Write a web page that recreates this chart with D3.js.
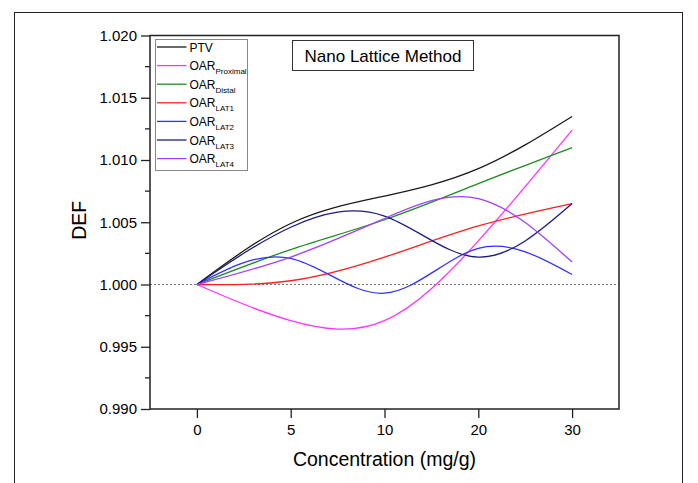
<!DOCTYPE html>
<html>
<head>
<meta charset="utf-8">
<script src="https://cdn.jsdelivr.net/npm/d3@7"></script>
<style>
  body { margin: 0; background: #fff; }
  text { font-family: "Liberation Sans", Arial, sans-serif; fill: #000; }
</style>
</head>
<body>
<div id="chart"></div>
<script>
// x categories (plotted at equal spacing)
const concentrations = ["0", "5", "10", "20", "30"];

// DEF values per structure
const ptv      = [1.0000, 1.0049, 1.0071, 1.0093, 1.0135];
const proximal = [1.0000, 0.9971, 0.9971, 1.0035, 1.0124];
const distal   = [1.0000, 1.0028, 1.0052, 1.0081, 1.0110];
const lat1     = [1.0000, 1.0003, 1.0022, 1.0047, 1.0065];
const lat2     = [1.0000, 1.0021, 0.9993, 1.0029, 1.0008];
const lat3     = [1.0000, 1.0046, 1.0055, 1.0022, 1.0065];
const lat4     = [1.0000, 1.0022, 1.0053, 1.0069, 1.0018];

const seriesNames = ["PTV", "OAR", "OAR", "OAR", "OAR", "OAR", "OAR"];
const seriesSubs  = ["", "Proximal", "Distal", "LAT1", "LAT2", "LAT3", "LAT4"];
const seriesColors = ["#1a1a1a", "#ff33ff", "#228b22", "#ff2020", "#3030ff", "#1c1c80", "#a040ff"];
const seriesData = [ptv, proximal, distal, lat1, lat2, lat3, lat4];

const yTicks = [0.990, 0.995, 1.000, 1.005, 1.010, 1.015, 1.020];

const W = 698, H = 483;
const margin = { top: 35.5, right: 79, bottom: 74, left: 150 };

const svg = d3.select('#chart').append('svg')
    .attr('width', W)
    .attr('height', H);

// outer border
svg.append('rect')
    .attr('x', 14.5).attr('y', 12.5)
    .attr('width', 668).attr('height', 490)
    .attr('fill', 'none')
    .attr('stroke', '#222')
    .attr('stroke-width', 1);

const x = d3.scaleLinear()
    .domain([-0.5, concentrations.length - 0.5])
    .range([margin.left, W - margin.right]);

const y = d3.scaleLinear()
    .domain([0.990, 1.020])
    .range([H - margin.bottom, margin.top]);

const g = svg.append('g');

// reference line at 1.000
g.append('line')
    .attr('x1', x.range()[0]).attr('x2', x.range()[1])
    .attr('y1', y(1)).attr('y2', y(1))
    .attr('stroke', '#777')
    .attr('stroke-width', 1.2)
    .attr('stroke-dasharray', '2,2');

// curves
const line = d3.line()
    .x((d, i) => x(i))
    .y(d => y(d))
    .curve(d3.curveNatural);

seriesData.forEach((s, k) => {
    g.append('path')
        .datum(s)
        .attr('d', line)
        .attr('fill', 'none')
        .attr('stroke', seriesColors[k])
        .attr('stroke-width', 1.3);
});

// axes
const xAxis = d3.axisBottom(x)
    .tickValues(d3.range(concentrations.length))
    .tickFormat(i => concentrations[i])
    .tickSize(9)
    .tickPadding(6)
    .tickSizeOuter(0);

const yAxis = d3.axisLeft(y)
    .tickValues(yTicks)
    .tickFormat(d3.format('.3f'))
    .tickSize(9)
    .tickPadding(4)
    .tickSizeOuter(0);

const gx = svg.append('g')
    .attr('transform', `translate(0,${y.range()[0]})`)
    .call(xAxis);
const gy = svg.append('g')
    .attr('transform', `translate(${x.range()[0]},0)`)
    .call(yAxis);

// minor y ticks
const minor = d3.range(0.9925, 1.020, 0.005);
gy.selectAll('.minor')
    .data(minor)
    .enter().append('line')
    .attr('class', 'minor')
    .attr('x1', -5).attr('x2', 0)
    .attr('y1', d => y(d)).attr('y2', d => y(d))
    .attr('stroke', '#222')
    .attr('stroke-width', 1.3);

[gx, gy].forEach(a => {
    a.select('.domain').remove();
    a.selectAll('.tick line').attr('stroke', '#222').attr('stroke-width', 1.3);
    a.selectAll('.tick text').style('font-size', '15px').style('font-family', '"Liberation Sans", Arial, sans-serif');
});

// frame
svg.append('rect')
    .attr('x', x.range()[0]).attr('y', y.range()[1])
    .attr('width', x.range()[1] - x.range()[0])
    .attr('height', y.range()[0] - y.range()[1])
    .attr('fill', 'none')
    .attr('stroke', '#222')
    .attr('stroke-width', 1.5);

// axis titles
svg.append('text')
    .attr('x', (x.range()[0] + x.range()[1]) / 2)
    .attr('y', 466)
    .attr('text-anchor', 'middle')
    .style('font-size', '19.5px')
    .text('Concentration (mg/g)');

svg.append('text')
    .attr('transform', `translate(86,${(y.range()[0] + y.range()[1]) / 2 - 2}) rotate(-90)`)
    .attr('text-anchor', 'middle')
    .style('font-size', '19.5px')
    .text('DEF');

// title box
const title = svg.append('g').attr('transform', 'translate(292.5,40.5)');
title.append('rect')
    .attr('width', 181).attr('height', 30)
    .attr('fill', '#fff')
    .attr('stroke', '#333')
    .attr('stroke-width', 1);
title.append('text')
    .attr('x', 90.5).attr('y', 21)
    .attr('text-anchor', 'middle')
    .style('font-size', '17px')
    .text('Nano Lattice Method');

// legend
const legend = svg.append('g').attr('transform', 'translate(155.5,39.5)');
legend.append('rect')
    .attr('width', 92).attr('height', 131)
    .attr('fill', '#fff')
    .attr('stroke', '#888')
    .attr('stroke-width', 1);

seriesNames.forEach((name, k) => {
    const row = legend.append('g').attr('transform', `translate(0,${7.5 + k * 18.6})`);
    row.append('line')
        .attr('x1', 1.5).attr('x2', 31)
        .attr('stroke', seriesColors[k])
        .attr('stroke-width', 1.3);
    const t = row.append('text')
        .attr('x', 34).attr('y', 4.5)
        .style('font-size', '12px');
    t.append('tspan').text(name);
    if (seriesSubs[k]) {
        t.append('tspan')
            .attr('dy', 4)
            .style('font-size', '8px')
            .text(seriesSubs[k]);
    }
});
</script>
</body>
</html>
